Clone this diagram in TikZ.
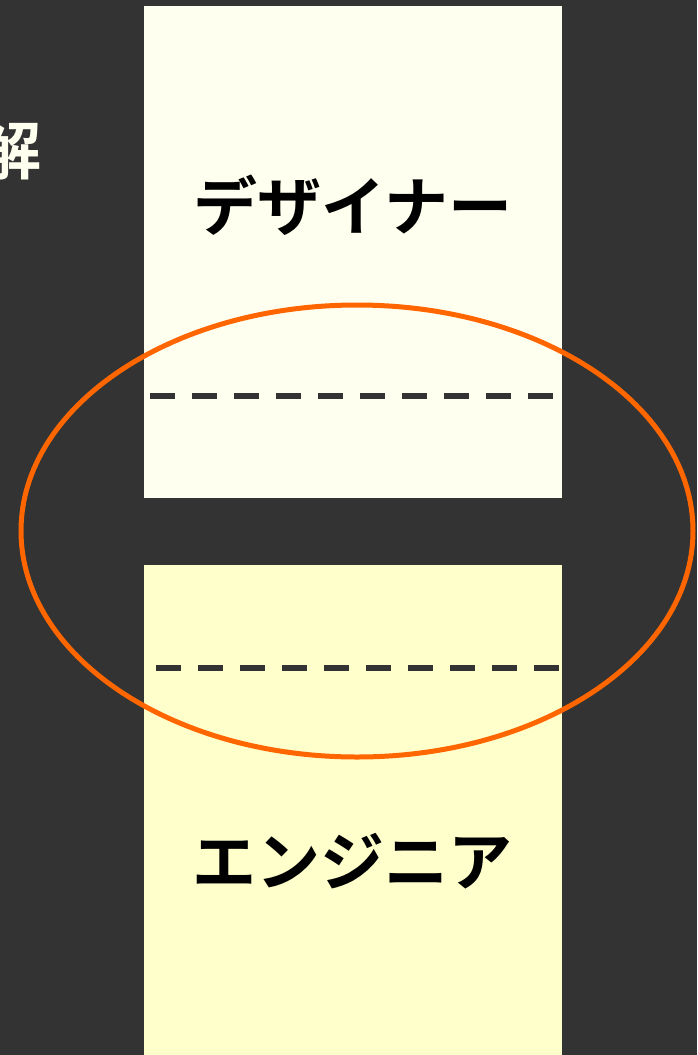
\documentclass[tikz,border=0pt]{standalone}
\usepackage{fontspec}
\newfontfamily\cjk{Noto Sans CJK JP}[BoldFont={Noto Sans CJK JP Bold}]
\usetikzlibrary{shapes.geometric}
\definecolor{bgdark}{HTML}{333333}
\definecolor{ivorybox}{HTML}{FFFFF0}
\definecolor{creambox}{HTML}{FFFFCC}
\definecolor{ringorange}{HTML}{FF6600}
\tikzset{
  rolebox/.style={draw=none, inner sep=0pt, minimum width=418pt},
  rolelabel/.style={inner sep=0pt, text=black, font=\cjk\bfseries\fontsize{64}{64}\selectfont},
  divider/.style={draw=bgdark, line width=6pt, dash pattern=on 25pt off 17pt},
  ring/.style={ellipse, draw=ringorange, line width=5pt, inner sep=0pt, fill=none}
}
\begin{document}
\begin{tikzpicture}[x=1pt, y=-1pt]
  \fill[bgdark] (0,0) rectangle (697,1055);
  \useasboundingbox (0,0) rectangle (697,1055);
  \clip (0,0) rectangle (697,1055);
  \node[rolelabel, text=ivorybox] (cut) at (10,150) {解};
  \node[rolebox, fill=ivorybox, minimum height=492pt] (designerbox) at (353,252) {};
  \node[rolebox, fill=creambox, minimum height=495pt] (engineerbox) at (353,812.5) {};
  \coordinate (d1a) at (150,396);
  \coordinate (d1b) at (556,396);
  \coordinate (d2a) at (156,668);
  \coordinate (d2b) at (562,668);
  \draw[divider] (d1a) -- (d1b);
  \draw[divider] (d2a) -- (d2b);
  \node[rolelabel] (designer) at (353,205) {デザイナー};
  \node[rolelabel] (engineer) at (352,861) {エンジニア};
  \node[ring, minimum width=672pt, minimum height=452pt] (overlap) at (357,531) {};
\end{tikzpicture}
\end{document}
